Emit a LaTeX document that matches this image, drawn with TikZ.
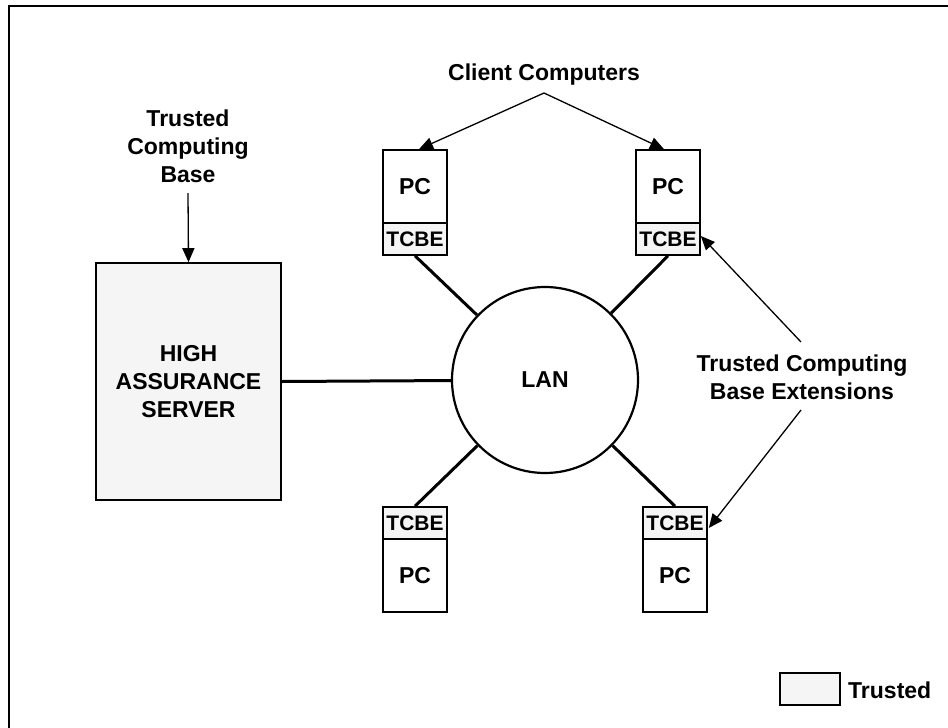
\documentclass[tikz,border=0pt]{standalone}
\usepackage{fontspec}
\setmainfont{Liberation Sans}
\usetikzlibrary{arrows.meta}
\begin{document}
\begin{tikzpicture}[x=1pt,y=-1pt,
  lbl/.style={font=\fontsize{23}{28}\selectfont\bfseries, align=center, inner sep=0pt},
  trusted/.style={fill=black!4},
  pcbody/.style={draw, line width=1.6pt, minimum width=64pt, inner sep=0pt, lbl},
  tcbe/.style={draw, trusted, line width=1.6pt, minimum width=64pt, minimum height=32pt, inner sep=0pt, font=\fontsize{21}{24}\selectfont\bfseries},
  link/.style={line width=3pt},
  pointer/.style={line width=1.3pt, -{Triangle[length=14pt,width=12pt]}}]
\useasboundingbox (0,0) rectangle (948,728);
% frame
\draw[line width=1.6pt] (9,740) -- (9,6) -- (960,6);

% LAN
\node[circle, draw, line width=2.2pt, minimum size=186pt, inner sep=0pt, lbl] (lan) at (545,380) {LAN};

% server
\node[draw, trusted, line width=1.6pt, minimum width=185pt, minimum height=237pt, lbl] (server) at (188.5,381.5) {HIGH\\ASSURANCE\\SERVER};

% top-left PC
\node[pcbody, minimum height=73pt] (pc1) at (415,186.5) {PC};
\node[tcbe] (tc1) at (415,239) {TCBE};
% top-right PC
\node[pcbody, minimum height=73pt] (pc2) at (668,186.5) {PC};
\node[tcbe] (tc2) at (668,239) {TCBE};
% bottom-left PC
\node[tcbe] (tc3) at (415,523) {TCBE};
\node[pcbody, minimum height=73pt] (pc3) at (415,575.5) {PC};
% bottom-right PC
\node[tcbe] (tc4) at (675,523) {TCBE};
\node[pcbody, minimum height=73pt] (pc4) at (675,575.5) {PC};

% links
\draw[link] (server.east) -- (lan);
\draw[link] (tc1.south) -- (lan);
\draw[link] (tc2.south) -- (lan);
\draw[link] (tc3.north) -- (lan);
\draw[link] (tc4.north) -- (lan);

% labels
\node[lbl] (cclabel) at (544,75) {Client Computers};
\coordinate (ccfork) at (544,93);
\draw[pointer] (ccfork) -- ([xshift=4pt]pc1.north);
\draw[pointer] (ccfork) -- ([xshift=-4pt]pc2.north);

\node[lbl] (tcblabel) at (188,146) {Trusted\\Computing\\Base};
\coordinate (tcbstart) at (188,193);
\draw[pointer] (tcbstart) -- (server.north);

\node[lbl] (tcbelabel) at (802,377) {Trusted Computing\\Base Extensions};
\coordinate (tcbeup) at (801,342);
\coordinate (tcbedown) at (801,410);
\draw[pointer] (tcbeup) -- ([yshift=3pt]tc2.east);
\draw[pointer] (tcbedown) -- ([xshift=1pt,yshift=-5pt]tc4.east);

% legend
\node[draw, trusted, line width=1.6pt, minimum width=60pt, minimum height=32pt, inner sep=0pt] (legbox) at (810,689) {};
\node[lbl, anchor=west] (legtext) at (848,690) {Trusted};
\end{tikzpicture}
\end{document}
